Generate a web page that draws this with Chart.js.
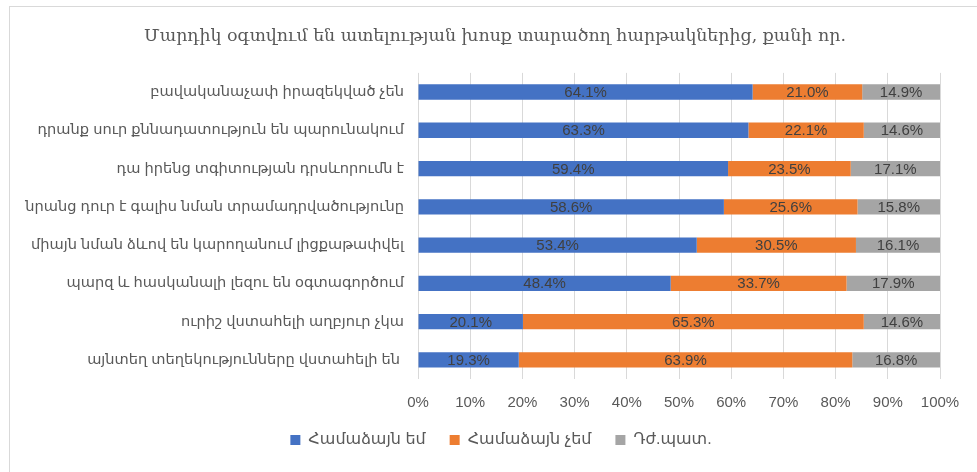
<!DOCTYPE html>
<html>
<head>
<meta charset="utf-8">
<script src="https://cdn.jsdelivr.net/npm/chart.js@4.4.1/dist/chart.umd.min.js"></script>
<style>
  html, body { margin: 0; padding: 0; background: #ffffff; }
  #wrap { width: 977px; height: 472px; }
</style>
</head>
<body>
<div id="wrap"><canvas id="surveyChart" width="977" height="472"></canvas></div>
<script>
const chartTitle = "Մարդիկ օգտվում են ատելության խոսք տարածող հարթակներից, քանի որ.";
const reasons = [
    "բավականաչափ իրազեկված չեն",
    "դրանք սուր քննադատություն են պարունակում",
    "դա իրենց տգիտության դրսևորումն է",
    "նրանց դուր է գալիս նման տրամադրվածությունը",
    "միայն նման ձևով են կարողանում լիցքաթափվել",
    "պարզ և հասկանալի լեզու են օգտագործում",
    "ուրիշ վստահելի աղբյուր չկա",
    "այնտեղ տեղեկությունները վստահելի են "
];
const seriesNames = ["Համաձայն եմ", "Համաձայն չեմ", "Դժ.պատ."];
const agree    = [64.1, 63.3, 59.4, 58.6, 53.4, 48.4, 20.1, 19.3];
const disagree = [21.0, 22.1, 23.5, 25.6, 30.5, 33.7, 65.3, 63.9];
const unsure   = [14.9, 14.6, 17.1, 15.8, 16.1, 17.9, 14.6, 16.8];
const seriesColors = ["#4472C4", "#ED7D31", "#A5A5A5"];

const sansFont = '"Liberation Sans", "DejaVu Sans", sans-serif';

// white page with the thin frame along the top and left edge
const framePlugin = {
    id: "frame",
    beforeDraw(chart) {
        const ctx = chart.ctx;
        ctx.save();
        ctx.fillStyle = "#ffffff";
        ctx.fillRect(0, 0, chart.width, chart.height);
        ctx.strokeStyle = "#d9d9d9";
        ctx.lineWidth = 1;
        ctx.strokeRect(9.5, 6.5, chart.width, chart.height);
        ctx.restore();
    }
};

// percent text centred inside every bar segment
const segmentLabels = {
    id: "segmentLabels",
    afterDatasetsDraw(chart) {
        const ctx = chart.ctx;
        ctx.save();
        ctx.font = "15px " + sansFont;
        ctx.fillStyle = "#404040";
        ctx.textAlign = "center";
        ctx.textBaseline = "middle";
        chart.data.datasets.forEach((ds, i) => {
            chart.getDatasetMeta(i).data.forEach((bar, j) => {
                const mid = (bar.x + bar.base) / 2;
                ctx.fillText(ds.data[j].toFixed(1) + "%", mid, bar.y + 1);
            });
        });
        ctx.restore();
    }
};

// title and legend sit a little right of the canvas centre;
// the wide legend padding is pulled back up under the axis
const boxShift = {
    id: "boxShift",
    afterLayout(chart) {
        const moves = [[chart.titleBlock, 25, 0], [chart.legend, 31, -19]];
        moves.forEach(([box, dx, dy]) => {
            if (box) {
                box.left += dx;
                box.right += dx;
                box.top += dy;
                box.bottom += dy;
            }
        });
    }
};

new Chart(document.getElementById("surveyChart"), {
    type: "bar",
    data: {
        labels: reasons,
        datasets: [agree, disagree, unsure].map((values, i) => ({
            label: seriesNames[i],
            data: values,
            backgroundColor: seriesColors[i],
            borderWidth: 0,
            barPercentage: 0.8,
            categoryPercentage: 0.5
        }))
    },
    options: {
        indexAxis: "y",
        responsive: false,
        animation: false,
        layout: { padding: { left: 0, right: 37, top: 0, bottom: -5 } },
        scales: {
            x: {
                stacked: true,
                min: 0,
                max: 100,
                ticks: {
                    stepSize: 10,
                    callback: v => v + "%",
                    color: "#595959",
                    font: { family: sansFont, size: 15 },
                    padding: 15
                },
                grid: { color: "#d9d9d9", drawTicks: false },
                border: { display: false }
            },
            y: {
                stacked: true,
                ticks: {
                    color: "#595959",
                    font: { family: sansFont, size: 14.6 },
                    padding: 6
                },
                grid: { display: false },
                border: { display: false },
                afterFit(scale) { scale.width = 418; }
            }
        },
        plugins: {
            title: {
                display: true,
                text: chartTitle,
                color: "#595959",
                font: { family: '"DejaVu Serif", serif', size: 17.4, weight: "normal" },
                padding: { top: 26, bottom: 26 }
            },
            legend: {
                position: "bottom",
                labels: {
                    boxWidth: 10,
                    boxHeight: 10,
                    padding: 24,
                    color: "#595959",
                    font: { family: sansFont, size: 16 }
                }
            },
            tooltip: { enabled: false }
        }
    },
    plugins: [framePlugin, segmentLabels, boxShift]
});
</script>
</body>
</html>
